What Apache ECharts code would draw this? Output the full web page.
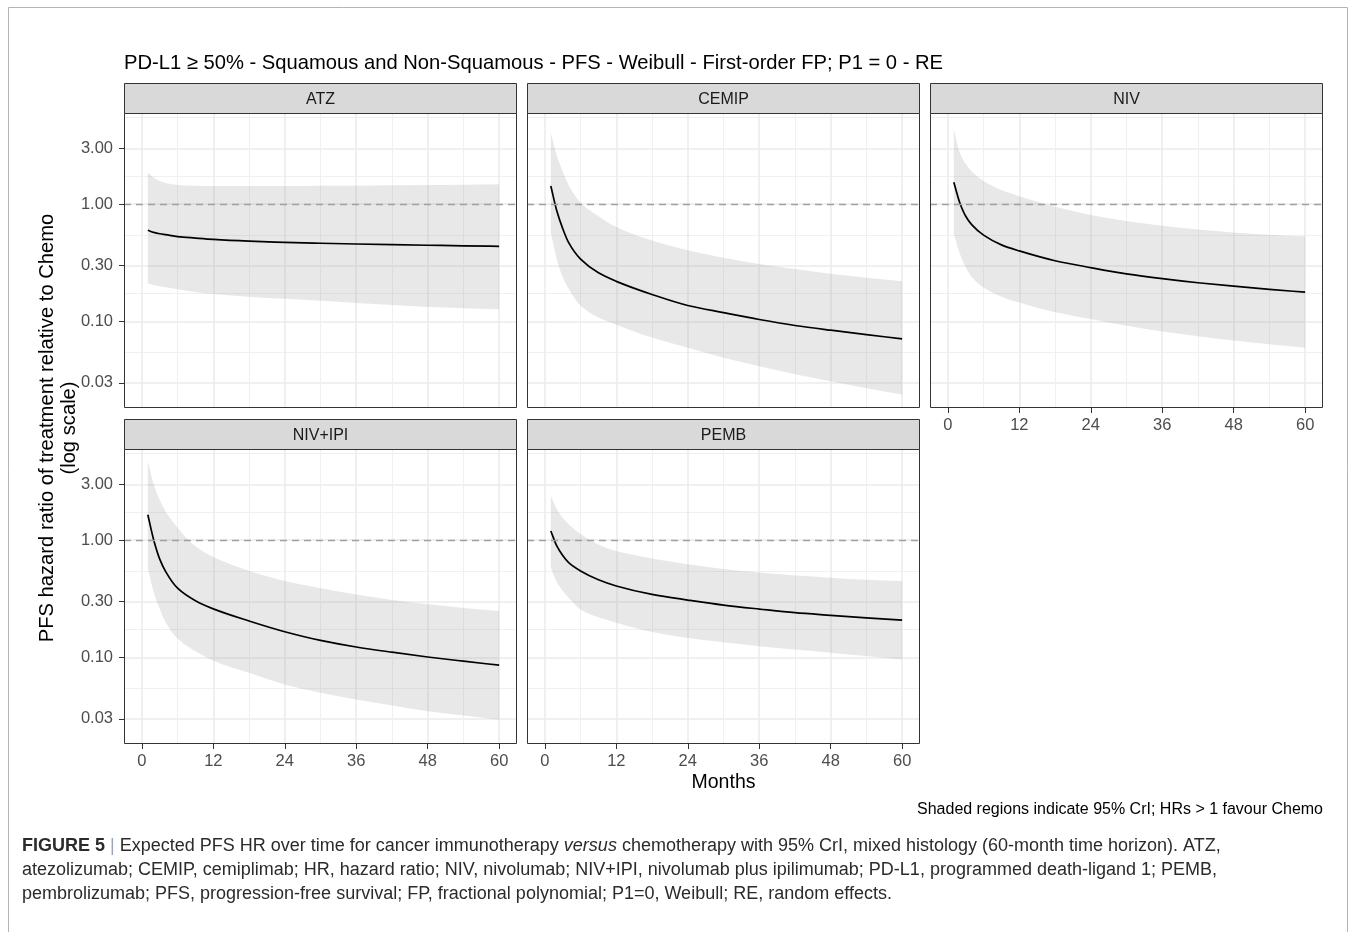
<!DOCTYPE html>
<html>
<head>
<meta charset="utf-8">
<script src="https://cdn.jsdelivr.net/npm/echarts@6/dist/echarts.min.js"></script>
<style>
html,body{margin:0;padding:0;background:#fff;}
#chart{width:1356px;height:932px;}
</style>
</head>
<body>
<div id="chart"></div>
<script>
// ---------------- DATA ----------------
const panelNames = ['ATZ', 'CEMIP', 'NIV', 'NIV+IPI', 'PEMB'];
const months = [1, 2, 3, 4, 6, 9, 12, 18, 24, 30, 36, 42, 48, 54, 60];

const atzHR = [0.60, 0.575, 0.56, 0.55, 0.53, 0.515, 0.502, 0.485, 0.473, 0.465, 0.458, 0.452, 0.447, 0.442, 0.438];
const atzLo = [0.211, 0.205, 0.200, 0.196, 0.188, 0.178, 0.172, 0.163, 0.156, 0.150, 0.144, 0.138, 0.133, 0.130, 0.127];
const atzHi = [1.87, 1.68, 1.58, 1.52, 1.46, 1.44, 1.43, 1.43, 1.43, 1.44, 1.44, 1.45, 1.46, 1.47, 1.48];

const cemHR = [1.43, 0.88, 0.62, 0.47, 0.34, 0.26, 0.22, 0.17, 0.137, 0.119, 0.104, 0.0925, 0.0843, 0.0774, 0.0711];
const cemLo = [0.576, 0.34, 0.24, 0.19, 0.136, 0.108, 0.094, 0.073, 0.0596, 0.049, 0.0415, 0.0355, 0.0309, 0.027, 0.0238];
const cemHi = [4.1, 2.6, 1.9, 1.45, 1.03, 0.79, 0.64, 0.49, 0.405, 0.35, 0.31, 0.28, 0.255, 0.236, 0.22];

const nivHR = [1.54, 1.03, 0.79, 0.67, 0.545, 0.45, 0.40, 0.33, 0.288, 0.255, 0.232, 0.214, 0.20, 0.188, 0.178];
const nivLo = [0.558, 0.38, 0.29, 0.24, 0.195, 0.163, 0.145, 0.12, 0.105, 0.092, 0.082, 0.075, 0.069, 0.064, 0.0596];
const nivHi = [4.4, 2.75, 2.2, 1.9, 1.58, 1.32, 1.17, 0.95, 0.81, 0.72, 0.655, 0.61, 0.575, 0.55, 0.53];

const nipHR = [1.65, 1.0, 0.69, 0.54, 0.39, 0.305, 0.26, 0.205, 0.166, 0.140, 0.123, 0.111, 0.101, 0.093, 0.086];
const nipLo = [0.577, 0.36, 0.26, 0.20, 0.145, 0.113, 0.094, 0.074, 0.0588, 0.050, 0.0438, 0.039, 0.0348, 0.032, 0.0295];
const nipHi = [4.7, 3.0, 2.2, 1.75, 1.28, 0.89, 0.72, 0.55, 0.449, 0.39, 0.345, 0.31, 0.284, 0.265, 0.249];

const pemHR = [1.20, 0.894, 0.74, 0.644, 0.547, 0.46, 0.407, 0.345, 0.309, 0.280, 0.259, 0.241, 0.229, 0.218, 0.208];
const pemLo = [0.584, 0.44, 0.37, 0.324, 0.257, 0.22, 0.198, 0.165, 0.147, 0.135, 0.125, 0.117, 0.110, 0.103, 0.096];
const pemHi = [2.39, 1.85, 1.55, 1.37, 1.13, 0.92, 0.81, 0.70, 0.624, 0.57, 0.53, 0.50, 0.48, 0.46, 0.449];

const xMajorTicks = [0, 12, 24, 36, 48, 60];
const xMinorTicks = [6, 18, 30, 42, 54];
const yMajorTicks = [0.03, 0.1, 0.3, 1, 3];
const yMinorTicks = [0.0548, 0.173, 0.548, 1.73, 5.48];
const refLine = 1;

const titleText = 'PD-L1 \u2265 50% - Squamous and Non-Squamous - PFS - Weibull - First-order FP; P1 = 0 - RE';
const xTitle = 'Months';
const yTitle = 'PFS hazard ratio of treatment relative to Chemo\n(log scale)';
const noteText = 'Shaded regions indicate 95% CrI; HRs > 1 favour Chemo';
const captionLines = [
  '{b|FIGURE 5} {p||} Expected PFS HR over time for cancer immunotherapy {i|versus} chemotherapy with 95% CrI, mixed histology (60-month time horizon). ATZ,',
  'atezolizumab; CEMIP, cemiplimab; HR, hazard ratio; NIV, nivolumab; NIV+IPI, nivolumab plus ipilimumab; PD-L1, programmed death-ligand 1; PEMB,',
  'pembrolizumab; PFS, progression-free survival; FP, fractional polynomial; P1=0, Weibull; RE, random effects.'
];

const panelData = [
  {hr: atzHR, lo: atzLo, hi: atzHi},
  {hr: cemHR, lo: cemLo, hi: cemHi},
  {hr: nivHR, lo: nivLo, hi: nivHi},
  {hr: nipHR, lo: nipLo, hi: nipHi},
  {hr: pemHR, lo: pemLo, hi: pemHi}
];

// ---------------- LAYOUT ----------------
const FONT = '"Liberation Sans", Arial, Helvetica, sans-serif';
const colLeft = [124, 527, 930];
const rowTop = [113, 449];
const PW = 393, PH = 295, STRIP = 30;
const X_MIN = -3, X_MAX = 63;
const Y_MIN = 0.0183, Y_MAX = 6.0;

// monotone cubic path through pixel points (x increasing)
function monoSegments(pts) {
  const n = pts.length;
  const h = [], d = [], m = [];
  for (let i = 0; i < n - 1; i++) {
    h[i] = pts[i + 1][0] - pts[i][0];
    d[i] = (pts[i + 1][1] - pts[i][1]) / h[i];
  }
  m[0] = d[0]; m[n - 1] = d[n - 2];
  for (let i = 1; i < n - 1; i++) {
    if (d[i - 1] * d[i] <= 0) m[i] = 0;
    else m[i] = 3 * (h[i - 1] + h[i]) / ((2 * h[i] + h[i - 1]) / d[i - 1] + (h[i] + 2 * h[i - 1]) / d[i]);
  }
  const segs = [];
  for (let i = 0; i < n - 1; i++) {
    const c1 = [pts[i][0] + h[i] / 3, pts[i][1] + m[i] * h[i] / 3];
    const c2 = [pts[i + 1][0] - h[i] / 3, pts[i + 1][1] - m[i + 1] * h[i] / 3];
    segs.push([pts[i], c1, c2, pts[i + 1]]);
  }
  return segs;
}
function f(p) { return p[0].toFixed(2) + ',' + p[1].toFixed(2); }

function ribbonRenderer(lo, hi) {
  return function (params, api) {
    if (params.dataIndex !== 0) return;
    const up = months.map((m, i) => api.coord([m, hi[i]]));
    const dn = months.map((m, i) => api.coord([m, lo[i]]));
    const su = monoSegments(up);
    const sd = monoSegments(dn);
    let path = 'M' + f(up[0]);
    su.forEach(s => { path += 'C' + f(s[1]) + ' ' + f(s[2]) + ' ' + f(s[3]); });
    path += 'L' + f(dn[dn.length - 1]);
    for (let i = sd.length - 1; i >= 0; i--) {
      const s = sd[i];
      path += 'C' + f(s[2]) + ' ' + f(s[1]) + ' ' + f(s[0]);
    }
    path += 'Z';
    return {
      type: 'path',
      shape: {pathData: path},
      style: {fill: 'rgba(150,150,150,0.22)', stroke: null}
    };
  };
}

function lineRenderer(hr) {
  return function (params, api) {
    if (params.dataIndex !== 0) return;
    const pts = months.map((m, i) => api.coord([m, hr[i]]));
    const segs = monoSegments(pts);
    let path = 'M' + f(pts[0]);
    segs.forEach(s => { path += 'C' + f(s[1]) + ' ' + f(s[2]) + ' ' + f(s[3]); });
    return {
      type: 'path',
      shape: {pathData: path},
      style: {fill: null, stroke: '#000', lineWidth: 1.7}
    };
  };
}

const grids = [], xAxes = [], yAxes = [], series = [], graphics = [];

panelNames.forEach((name, i) => {
  const c = i % 3, r = Math.floor(i / 3);
  const showX = i >= 2;
  const showY = c === 0;
  grids.push({left: colLeft[c], top: rowTop[r], width: PW, height: PH, show: false});

  xAxes.push({
    type: 'value', gridIndex: i, min: X_MIN, max: X_MAX, position: 'bottom',
    axisLine: {show: false, onZero: false},
    axisTick: {show: showX, customValues: xMajorTicks, length: 5, lineStyle: {color: '#333', width: 1}},
    axisLabel: {show: showX, customValues: xMajorTicks, margin: 9, color: '#4D4D4D', fontSize: 16.5, fontFamily: FONT},
    splitLine: {show: true, lineStyle: {color: '#EBEBEB', width: 1.5}}
  });
  xAxes.push({
    type: 'value', gridIndex: i, min: X_MIN, max: X_MAX, position: 'bottom',
    axisLine: {show: false, onZero: false},
    axisTick: {show: false, customValues: xMinorTicks},
    axisLabel: {show: false},
    splitLine: {show: true, lineStyle: {color: '#F0F0F0', width: 1}}
  });
  yAxes.push({
    type: 'log', logBase: 10, gridIndex: i, min: Y_MIN, max: Y_MAX, position: 'left',
    axisLine: {show: false, onZero: false},
    axisTick: {show: showY, customValues: yMajorTicks, length: 5, lineStyle: {color: '#333', width: 1}},
    axisLabel: {show: showY, customValues: yMajorTicks, margin: 11, color: '#4D4D4D', fontSize: 16.5, fontFamily: FONT,
      formatter: v => Number(v).toFixed(2)},
    splitLine: {show: true, lineStyle: {color: '#EBEBEB', width: 1.5}}
  });
  yAxes.push({
    type: 'log', logBase: 10, gridIndex: i, min: Y_MIN, max: Y_MAX, position: 'left',
    axisLine: {show: false, onZero: false},
    axisTick: {show: false, customValues: yMinorTicks},
    axisLabel: {show: false},
    splitLine: {show: true, lineStyle: {color: '#F0F0F0', width: 1}}
  });

  const pd = panelData[i];
  series.push({
    type: 'custom', xAxisIndex: 2 * i, yAxisIndex: 2 * i, z: 2, silent: true,
    renderItem: ribbonRenderer(pd.lo, pd.hi),
    data: months.map((m, k) => [m, pd.lo[k], pd.hi[k]]),
    encode: {x: 0, y: [1, 2]}
  });
  series.push({
    type: 'line', xAxisIndex: 2 * i, yAxisIndex: 2 * i, z: 3, silent: true,
    data: [],
    markLine: {
      silent: true, symbol: 'none', label: {show: false},
      lineStyle: {type: [7, 5], color: '#A0A0A0', width: 1.3},
      data: [{yAxis: refLine}]
    }
  });
  series.push({
    type: 'custom', xAxisIndex: 2 * i, yAxisIndex: 2 * i, z: 4, silent: true,
    renderItem: lineRenderer(pd.hr),
    data: months.map((m, k) => [m, pd.hr[k]])
  });

  // panel border
  graphics.push({
    type: 'rect', z: 100,
    shape: {x: colLeft[c] + 0.5, y: rowTop[r] + 0.5, width: PW - 1, height: PH - 1},
    style: {fill: null, stroke: '#333333', lineWidth: 1}
  });
  // strip
  graphics.push({
    type: 'rect', z: 100,
    shape: {x: colLeft[c] + 0.5, y: rowTop[r] - STRIP + 0.5, width: PW - 1, height: STRIP},
    style: {fill: '#D9D9D9', stroke: '#333333', lineWidth: 1}
  });
  graphics.push({
    type: 'text', z: 101,
    style: {text: name, x: colLeft[c] + PW / 2, y: rowTop[r] - STRIP / 2 + 1.5, align: 'center', verticalAlign: 'middle',
      fill: '#1A1A1A', font: '16px ' + FONT}
  });
});

// frame
graphics.push({type: 'rect', z: 0, shape: {x: 8.5, y: 7.5, width: 1339, height: 940},
  style: {fill: null, stroke: '#B4B4B4', lineWidth: 1}});
// title
graphics.push({type: 'text', z: 101, style: {text: titleText, x: 124, y: 63.5, align: 'left', verticalAlign: 'middle',
  fill: '#000', font: '20.2px ' + FONT}});
// x axis title
graphics.push({type: 'text', z: 101, style: {text: xTitle, x: 723.5, y: 783, align: 'center', verticalAlign: 'middle',
  fill: '#000', font: '19.5px ' + FONT}});
// y axis title
graphics.push({type: 'text', z: 101, x: 58, y: 428, rotation: Math.PI / 2,
  style: {text: yTitle, x: 0, y: 0, align: 'center', verticalAlign: 'middle', lineHeight: 22,
    fill: '#000', font: '20.2px ' + FONT}});
// note
graphics.push({type: 'text', z: 101, style: {text: noteText, x: 1323, y: 809.5, align: 'right', verticalAlign: 'middle',
  fill: '#000', font: '16px ' + FONT}});
// figure caption
captionLines.forEach((t, k) => {
  graphics.push({type: 'text', z: 101, style: {
    text: t, x: 22, y: 846 + 24 * k, align: 'left', verticalAlign: 'middle',
    fill: '#2B2B2B', font: '18px ' + FONT,
    rich: {
      b: {fontWeight: 'bold', fontSize: 18, fontFamily: FONT, fill: '#2B2B2B'},
      p: {fontSize: 18, fontFamily: FONT, fill: '#9AA5B5'},
      i: {fontStyle: 'italic', fontSize: 18, fontFamily: FONT, fill: '#2B2B2B'}
    }
  }});
});

const chart = echarts.init(document.getElementById('chart'), null, {renderer: 'canvas'});
chart.setOption({
  animation: false,
  backgroundColor: '#fff',
  grid: grids,
  xAxis: xAxes,
  yAxis: yAxes,
  series: series,
  graphic: {elements: graphics}
});
</script>
</body>
</html>
